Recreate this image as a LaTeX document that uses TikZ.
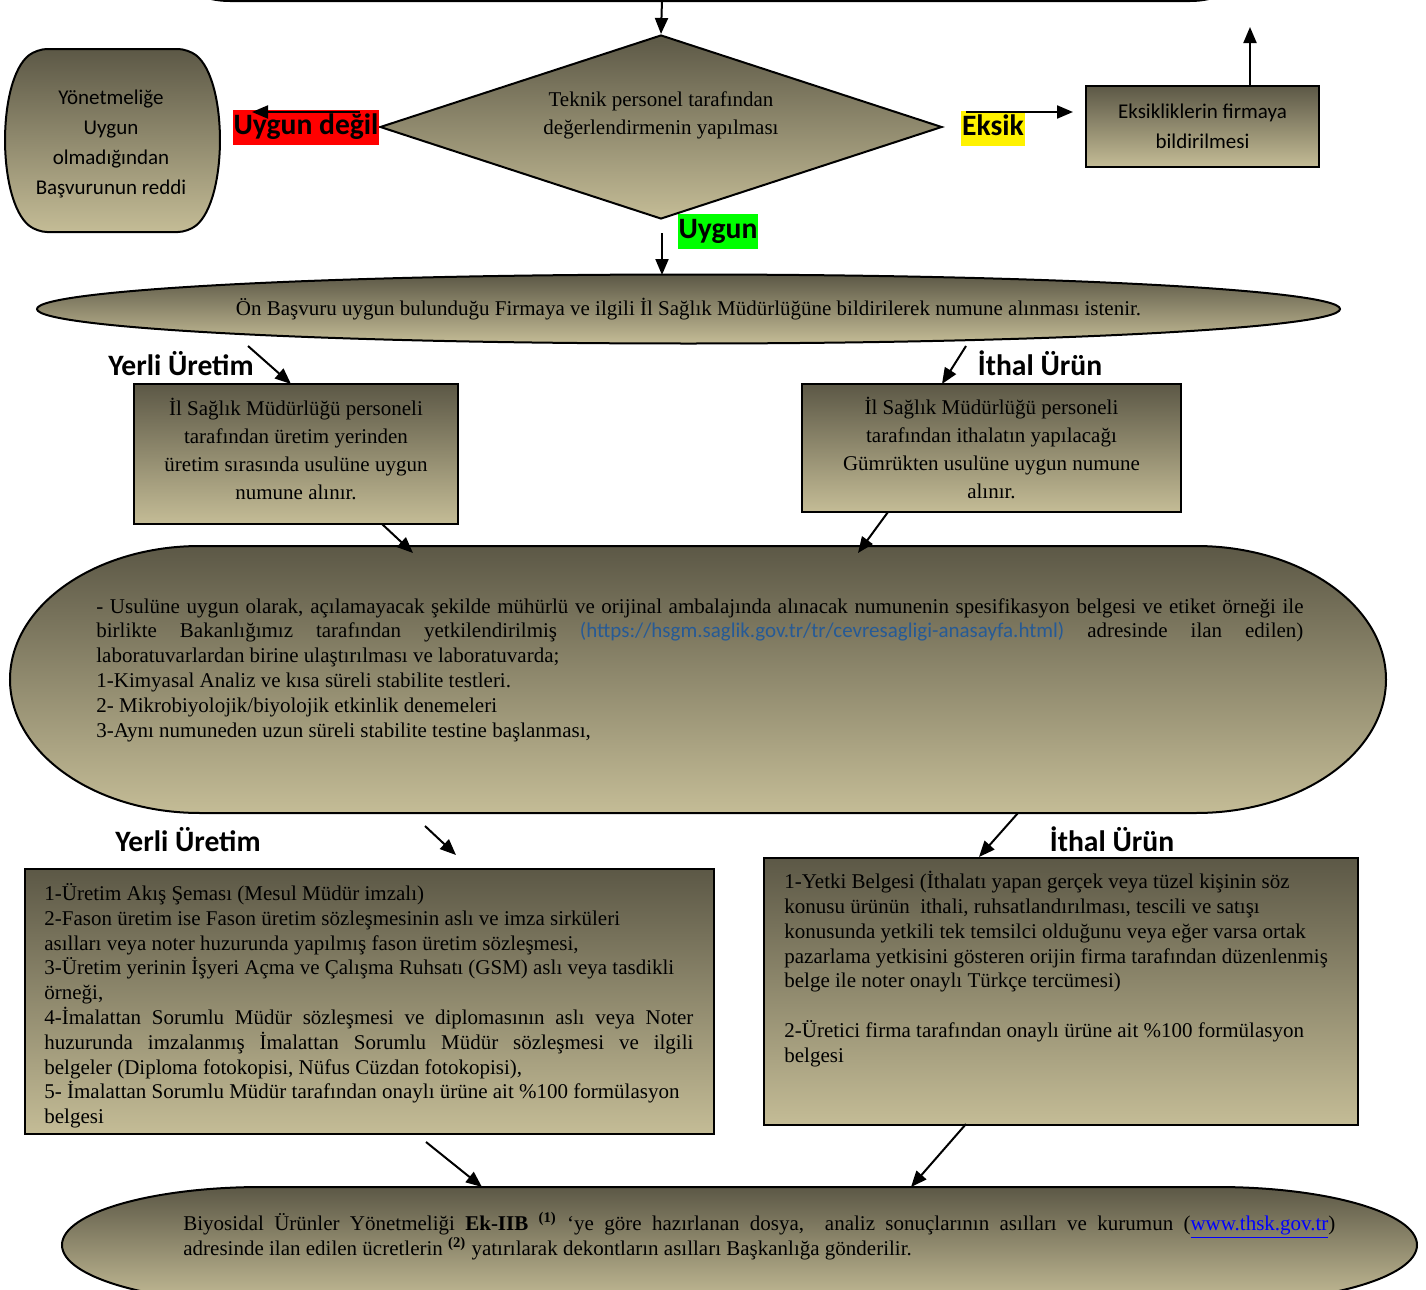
\documentclass[tikz,border=0pt]{standalone}
\usepackage{fontspec}
\setmainfont{Liberation Serif}
\newfontfamily\calib{Carlito}
\usetikzlibrary{arrows.meta,shapes.geometric}

\definecolor{olivedark}{RGB}{92,88,70}
\definecolor{olivelight}{RGB}{196,188,150}
\definecolor{urlblue}{RGB}{38,90,150}

\newcommand{\txt}{\fontsize{10.5}{12.4}\selectfont}
\newcommand{\txtwide}{\fontsize{10.5}{14}\selectfont}
\newcommand{\sans}{\calib\fontsize{10.5}{15}\selectfont}
\newcommand{\tagfont}{\calib\bfseries\fontsize{14.8}{16}\selectfont}

\tikzset{
  olivefill/.style={draw=black, line width=1pt, top color=olivedark, bottom color=olivelight},
  stepbox/.style={olivefill, rectangle, inner sep=0pt},
  tag/.style={font=\tagfont, inner xsep=0.5pt, inner ysep=0pt, text height=12.5pt, text depth=5pt},
  conn/.style={-{Triangle[length=8pt,width=6.5pt]}, line width=1pt},
  para/.style={anchor=north west, inner sep=0pt, font=\txt},
}

\begin{document}
\begin{tikzpicture}[x=0.5pt,y=-0.5pt]
    \useasboundingbox (0,0) rectangle (1426,1290);
    \clip (0,0) rectangle (1426,1290);

    % shapes drawn as paths
    \draw[olivefill] (230,1) -- (1190,1) arc[start angle=90,end angle=-90,x radius=60,y radius=40]
        -- (230,-79) arc[start angle=-90,end angle=-270,x radius=60,y radius=40] -- cycle;
    \draw[olivefill, rounded corners=5pt] (110,49) -- (188,49) .. controls (228,80) and (228,200) .. (188,232)
        -- (37,232) .. controls (-3,200) and (-3,80) .. (37,49) -- cycle;
    \draw[olivefill] (200,546) -- (1196,546) arc[start angle=-90,end angle=90,x radius=190,y radius=133.5]
        -- (200,813) arc[start angle=90,end angle=270,x radius=190,y radius=133.5] -- cycle;
    \draw[olivefill] (262,1187) -- (1217,1187) arc[start angle=-90,end angle=90,x radius=200,y radius=58]
        -- (262,1303) arc[start angle=90,end angle=270,x radius=200,y radius=58] -- cycle;

    % nodes
    \node[font=\sans, align=center] (red) at (111,144) {Yönetmeliğe\\Uygun\\olmadığından\\Başvurunun reddi};
    \node[olivefill, diamond, minimum width=281pt, minimum height=92pt, inner sep=0pt] (dia) at (661,127) {};
    \node[font=\txtwide, align=center] (diatxt) at (661,115) {Teknik personel tarafından\\değerlendirmenin yapılması};
    \node[tag, fill=red] (nok) at (306,127) {Uygun değil};
    \node[tag, fill=yellow] (eks) at (993,128) {Eksik};
    \node[tag, fill=green] (ok) at (718,231) {Uygun};
    \node[stepbox, minimum width=116.5pt, minimum height=40.5pt, font=\sans, align=center] (ebox) at (1202.5,126.5) {Eksikliklerin firmaya\\bildirilmesi};

    \node[olivefill, ellipse, minimum width=651.5pt, minimum height=34.5pt, inner sep=0pt, font=\txt] (onb) at (688.5,309)
        {Ön Başvuru uygun bulunduğu Firmaya ve ilgili İl Sağlık Müdürlüğüne bildirilerek numune alınması istenir.};
    \node[tag] (yerli1) at (181,368) {Yerli Üretim};
    \node[tag] (ithal1) at (1040,368) {İthal Ürün};
    \node[stepbox, minimum width=162pt, minimum height=70pt, font=\txtwide, align=center] (yb1) at (296,454) {};
    \node[font=\txtwide, align=center] (yb1txt) at (296,449)
        {İl Sağlık Müdürlüğü personeli\\tarafından üretim yerinden\\üretim sırasında usulüne uygun\\numune alınır.};
    \node[stepbox, minimum width=189.5pt, minimum height=64pt, font=\txtwide, align=center] (ib1) at (991.5,448)
        {İl Sağlık Müdürlüğü personeli\\tarafından ithalatın yapılacağı\\Gümrükten usulüne uygun numune\\alınır.};

    \node[para, text width=603.5pt, align=justify] (labtxt) at (96,598)
        {\hyphenpenalty10000\exhyphenpenalty10000
        - Usulüne uygun olarak, açılamayacak şekilde mühürlü ve orijinal ambalajında alınacak numunenin spesifikasyon belgesi ve etiket örneği ile\linebreak
        birlikte Bakanlığımız tarafından yetkilendirilmiş \mbox{\calib\color{urlblue}(https://hsgm.saglik.gov.tr/tr/cevresagligi-anasayfa.html)} adresinde ilan edilen)\linebreak
        laboratuvarlardan birine ulaştırılması ve laboratuvarda;\newline
        1-Kimyasal Analiz ve kısa süreli stabilite testleri.\newline
        2- Mikrobiyolojik/biyolojik etkinlik denemeleri\newline
        3-Aynı numuneden uzun süreli stabilite testine başlanması,};

    \node[tag] (yerli2) at (188,844) {Yerli Üretim};
    \node[tag] (ithal2) at (1112,844) {İthal Ürün};
    \node[stepbox, anchor=north west, minimum width=344.5pt, minimum height=132.5pt] (yb2) at (24,868) {};
    \node[para, text width=324.5pt, align=justify] (yb2txt) at (44,883)
        {\hyphenpenalty10000
        1-Üretim Akış Şeması (Mesul Müdür imzalı)\newline
        2-Fason üretim ise Fason üretim sözleşmesinin aslı ve imza sirküleri\newline
        asılları veya noter huzurunda yapılmış fason üretim sözleşmesi,\newline
        3-Üretim yerinin İşyeri Açma ve Çalışma Ruhsatı (GSM) aslı veya tasdikli\newline
        örneği,\newline
        4-İmalattan Sorumlu Müdür sözleşmesi ve diplomasının aslı veya Noter\linebreak
        huzurunda imzalanmış İmalattan Sorumlu Müdür sözleşmesi ve ilgili\linebreak
        belgeler (Diploma fotokopisi, Nüfus Cüzdan fotokopisi),\newline
        5- İmalattan Sorumlu Müdür tarafından onaylı ürüne ait \%100 formülasyon\newline
        belgesi};
    \node[stepbox, anchor=north west, minimum width=297pt, minimum height=133.5pt] (ib2) at (763,857) {};
    \node[para, align=left] (ib2txt) at (784,871)
        {1-Yetki Belgesi (İthalatı yapan gerçek veya tüzel kişinin söz\\
        konusu ürünün\ \ ithali, ruhsatlandırılması, tescili ve satışı\\
        konusunda yetkili tek temsilci olduğunu veya eğer varsa ortak\\
        pazarlama yetkisini gösteren orijin firma tarafından düzenlenmiş\\
        belge ile noter onaylı Türkçe tercümesi)\\[12.4pt]
        2-Üretici firma tarafından onaylı ürüne ait \%100 formülasyon\\
        belgesi};

    \node[para, text width=576pt, align=justify] (biytxt) at (183,1213)
        {\hyphenpenalty10000
        Biyosidal Ürünler Yönetmeliği \textbf{Ek-IIB} \smash{\textsuperscript{\textbf{(1)}}} ‘ye göre hazırlanan dosya,\ \ analiz sonuçlarının asılları ve kurumun ({\color{blue}\underline{www.thsk.gov.tr}})\linebreak
        adresinde ilan edilen ücretlerin \smash{\textsuperscript{\textbf{(2)}}} yatırılarak dekontların asılları Başkanlığa gönderilir.};

    % connector ends
    \coordinate (topin) at (662,0);
    \coordinate (nokfrom) at (360,112);
    \coordinate (nokto) at (252,112);
    \coordinate (eksfrom) at (966,112);
    \coordinate (eksto) at (1073,112);
    \coordinate (backto) at (1250,27);
    \coordinate (okfrom) at (662,233);
    \coordinate (okto) at (662,275);
    \coordinate (yerlifrom) at (248,346);
    \coordinate (yerlito) at (291,384);
    \coordinate (ithalfrom) at (966,346);
    \coordinate (ithalto) at (942,384);
    \coordinate (yb1from) at (382,524);
    \coordinate (yb1to) at (413,553);
    \coordinate (ib1from) at (888,512);
    \coordinate (ib1to) at (858,553);
    \coordinate (labfromleft) at (425,826);
    \coordinate (labtoleft) at (456,855);
    \coordinate (labfromright) at (1018,813);
    \coordinate (labtoright) at (979,857);
    \coordinate (yb2from) at (426,1142);
    \coordinate (yb2to) at (482,1187);
    \coordinate (ib2from) at (966,1124);
    \coordinate (ib2to) at (911,1187);

    % paths
    \draw[conn] (topin) -- (dia.north);
    \draw[conn] (nokfrom) -- (nokto);
    \draw[conn] (eksfrom) -- (eksto);
    \draw[conn] (ebox.north -| backto) -- (backto);
    \draw[conn] (okfrom) -- (okto);
    \draw[conn] (yerlifrom) -- (yerlito);
    \draw[conn] (ithalfrom) -- (ithalto);
    \draw[conn] (yb1from) -- (yb1to);
    \draw[conn] (ib1from) -- (ib1to);
    \draw[conn] (labfromleft) -- (labtoleft);
    \draw[conn] (labfromright) -- (labtoright);
    \draw[conn] (yb2from) -- (yb2to);
    \draw[conn] (ib2from) -- (ib2to);
\end{tikzpicture}
\end{document}
